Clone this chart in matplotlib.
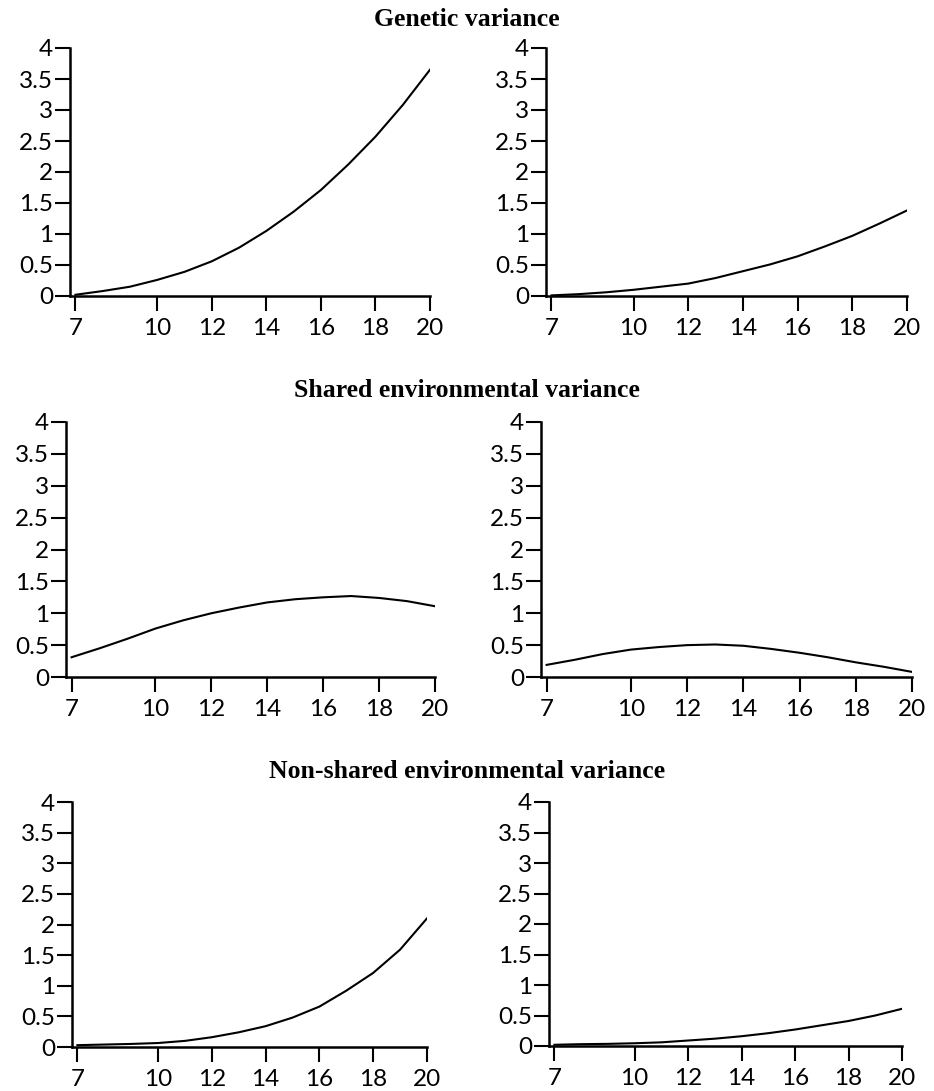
import matplotlib.pyplot as plt

# ages (x) and variance estimates
ages = [7, 8, 9, 10, 11, 12, 13, 14, 15, 16, 17, 18, 19, 20]

genetic_left = [0.02, 0.08, 0.15, 0.26, 0.39, 0.56, 0.78, 1.05, 1.36, 1.71, 2.12, 2.57, 3.08, 3.65]
genetic_right = [0.01, 0.03, 0.06, 0.10, 0.15, 0.20, 0.29, 0.40, 0.51, 0.64, 0.80, 0.97, 1.17, 1.38]

shared_left = [0.31, 0.45, 0.60, 0.76, 0.89, 1.00, 1.09, 1.17, 1.22, 1.25, 1.27, 1.24, 1.19, 1.11]
shared_right = [0.19, 0.27, 0.36, 0.43, 0.47, 0.50, 0.51, 0.49, 0.44, 0.38, 0.31, 0.23, 0.16, 0.08]

nonshared_left = [0.03, 0.04, 0.05, 0.065, 0.10, 0.16, 0.24, 0.34, 0.48, 0.66, 0.92, 1.21, 1.59, 2.10]
nonshared_right = [0.02, 0.03, 0.035, 0.045, 0.06, 0.09, 0.12, 0.16, 0.21, 0.27, 0.34, 0.41, 0.50, 0.61]

row_titles = ['Genetic variance', 'Shared environmental variance', 'Non-shared environmental variance']
xticks = [7, 10, 12, 14, 16, 18, 20]
yticks = [0, 0.5, 1, 1.5, 2, 2.5, 3, 3.5, 4]
yticklabels = ['0', '0.5', '1', '1.5', '2', '2.5', '3', '3.5', '4']

series = [[genetic_left, genetic_right],
          [shared_left, shared_right],
          [nonshared_left, nonshared_right]]

W, H = 934, 1091
# panel boxes in pixels: (left, right, top, bottom)
boxes = [[(70, 430, 48, 296), (546, 907, 48, 296)],
         [(66, 435, 422, 677), (541, 912, 422, 677)],
         [(72, 427, 802, 1047), (549, 902, 802, 1046)]]
title_y = [20, 391, 772]

fig = plt.figure(figsize=(W / 100, H / 100), dpi=100)

for r in range(3):
    fig.text(0.5, 1 - title_y[r] / H, row_titles[r], ha='center', va='center',
             fontsize=18.5, fontweight='bold', family='Liberation Serif')
    for c in range(2):
        l, rr, t, b = boxes[r][c]
        ax = fig.add_axes([l / W, 1 - b / H, (rr - l) / W, (b - t) / H])
        ax.plot(ages, series[r][c], color='black', lw=1.5)
        ax.set_xlim(6.8, 20)
        ax.set_ylim(0, 4)
        ax.set_xticks(xticks)
        ax.set_yticks(yticks)
        ax.set_yticklabels(yticklabels)
        for s in ['top', 'right']:
            ax.spines[s].set_visible(False)
        for s in ['left', 'bottom']:
            ax.spines[s].set_linewidth(1.8)
        ax.tick_params(length=11, width=1.5, labelsize=17.5, pad=1)
        ax.tick_params(axis='x', pad=5)
        for lab in ax.get_xticklabels() + ax.get_yticklabels():
            lab.set_family('Lato')

fig.savefig('out.png', dpi=100)
